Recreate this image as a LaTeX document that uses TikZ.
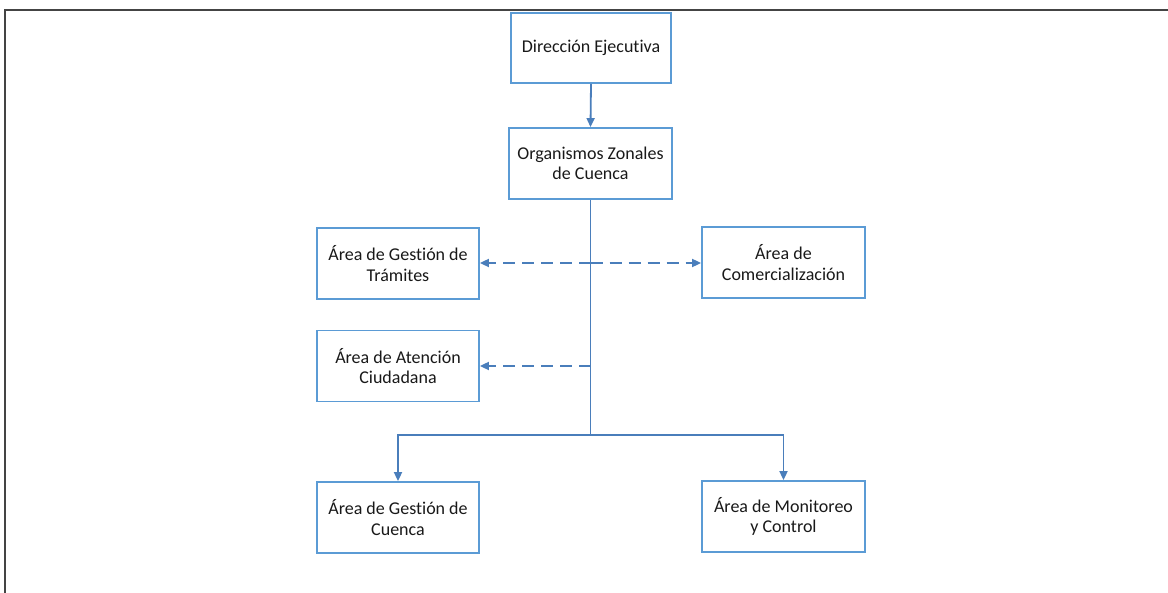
\documentclass[tikz,border=0pt]{standalone}
\usepackage{fontspec}
\setmainfont{Carlito}[Ligatures=NoCommon]
\usetikzlibrary{arrows.meta}
\definecolor{boxblue}{HTML}{5B9BD5}
\definecolor{lineblue}{HTML}{4A7EBB}
\definecolor{frame}{HTML}{444444}
\begin{document}
\begin{tikzpicture}[x=1pt,y=-1pt,
  box/.style={draw=boxblue,line width=1.8pt,rectangle,minimum width=162pt,minimum height=71pt,
    align=center,font=\fontsize{18}{20.5}\selectfont,text=black!90,inner sep=2pt},
  conn/.style={draw=lineblue,line width=1.8pt},
  arr/.style={conn,-{Triangle[length=9pt,width=8pt]}},
  dsh/.style={arr,dash pattern=on 12pt off 7pt}]
\useasboundingbox (0,0) rectangle (1168,593);
\fill[white] (0,0) rectangle (1168,593);
\draw[frame,line width=2pt] (5,593) -- (5,10) -- (1168,10);
\node[box,minimum width=160pt,minimum height=70pt] (dir) at (591,48) {Dirección Ejecutiva};
\node[box,minimum width=163pt] (org) at (590.5,163.5) {Organismos Zonales\\de Cuenca};
\node[box] (tram) at (398,263.5) {Área de Gestión de\\Trámites};
\node[box,minimum width=163pt] (com) at (783.5,262.5) {Área de\\Comercialización};
\node[box] (aten) at (398,366) {Área de Atención\\Ciudadana};
\node[box] (cue) at (398,517.5) {Área de Gestión de\\Cuenca};
\node[box,minimum width=163pt] (mon) at (783.5,516.5) {Área de Monitoreo\\y Control};
\coordinate (j) at (590.5,435);
\coordinate (t1) at (590.5,263);
\coordinate (t2) at (590.5,366);
\draw[arr] (dir.south) -- (org.north);
\draw[conn] (org.south) -- (j);
\draw[arr] (j) -| (cue.north);
\draw[arr] (j) -| (mon.north);
\draw[dsh] (t1) -- (tram.east |- t1);
\draw[dsh] (t1) -- (com.west |- t1);
\draw[dsh] (t2) -- (aten.east);
\end{tikzpicture}
\end{document}
